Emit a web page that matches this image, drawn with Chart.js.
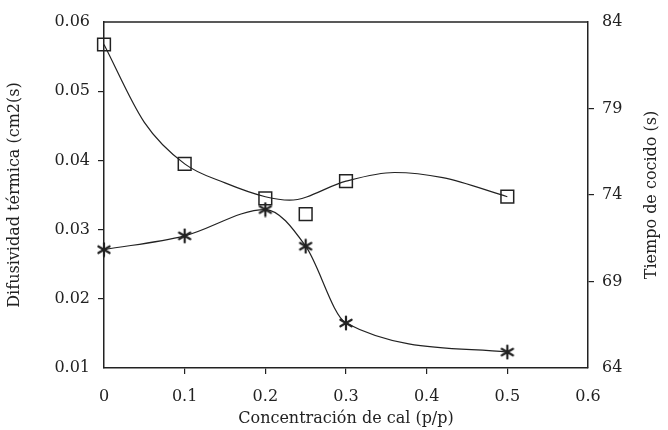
<!DOCTYPE html>
<html>
<head>
<meta charset="utf-8">
<script src="https://cdn.jsdelivr.net/npm/chart.js@4"></script>
<style>
  body { margin: 0; background: #fff; }
  #wrap { width: 668px; height: 430px; }
</style>
</head>
<body>
<div id="wrap"><canvas id="chart"></canvas></div>
<script>
// datos
const concX = [0, 0.1, 0.2, 0.25, 0.3, 0.5];
const difusividad = [0.0271, 0.0291, 0.0329, 0.0276, 0.0165, 0.0123];
const tiempo = [82.7, 75.8, 73.8, 72.9, 74.8, 73.9];
// curva ajustada de tiempo (leida de la figura, no pasa por todos los puntos)
const curvaX = [0, 0.05, 0.1, 0.15, 0.2, 0.23, 0.3, 0.36, 0.42, 0.5];
const curvaTiempo = [82.7, 78.2, 75.8, 74.7, 73.9, 73.7, 74.8, 75.3, 75.0, 73.9];

const ink = '#222';
const fontFam = '"DejaVu Serif", "Liberation Serif", serif';

// asterisco de 6 puntas
function makeStar() {
    const c = document.createElement('canvas');
    c.width = 16; c.height = 16;
    const g = c.getContext('2d');
    g.strokeStyle = ink;
    g.lineWidth = 2.2;
    g.lineCap = 'round';
    for (let i = 0; i < 3; i++) {
        const a = Math.PI / 2 + i * Math.PI / 3;
        g.beginPath();
        g.moveTo(8 + 6.5 * Math.cos(a), 8 + 6.5 * Math.sin(a));
        g.lineTo(8 - 6.5 * Math.cos(a), 8 - 6.5 * Math.sin(a));
        g.stroke();
    }
    return c;
}
const starImg = makeStar();

const toPts = (xs, ys) => xs.map((x, i) => ({ x: x, y: ys[i] }));

const tickColor = n => ctx => (ctx.index === 0 || ctx.index === n - 1) ? 'rgba(0,0,0,0)' : ink;

const framePlugin = {
    id: 'frame',
    afterDraw(chart) {
        const { ctx, chartArea: a } = chart;
        ctx.save();
        ctx.strokeStyle = ink;
        ctx.lineWidth = 1.5;
        ctx.beginPath();
        ctx.moveTo(a.left, a.top);
        ctx.lineTo(a.right, a.top);
        ctx.stroke();
        // titulo del eje derecho, leido de abajo hacia arriba
        ctx.fillStyle = ink;
        ctx.font = '16px ' + fontFam;
        ctx.textAlign = 'center';
        ctx.textBaseline = 'middle';
        ctx.translate(652, (a.top + a.bottom) / 2);
        ctx.rotate(-Math.PI / 2);
        ctx.fillText('Tiempo de cocido (s)', 0, 0);
        ctx.restore();
    }
};

new Chart(document.getElementById('chart'), {
    type: 'scatter',
    data: {
        datasets: [
            {
                data: toPts(concX, difusividad),
                yAxisID: 'y',
                showLine: true,
                clip: false,
                cubicInterpolationMode: 'monotone',
                borderColor: ink,
                borderWidth: 1.2,
                pointStyle: starImg,
                pointRadius: 7
            },
            {
                data: toPts(concX, tiempo),
                yAxisID: 'y1',
                showLine: false,
                clip: false,
                pointStyle: 'rect',
                pointRadius: 9,
                backgroundColor: 'rgba(0,0,0,0)',
                borderColor: ink,
                borderWidth: 1.5
            },
            {
                data: toPts(curvaX, curvaTiempo),
                yAxisID: 'y1',
                showLine: true,
                clip: false,
                cubicInterpolationMode: 'monotone',
                borderColor: ink,
                borderWidth: 1.2,
                pointRadius: 0
            }
        ]
    },
    options: {
        responsive: true,
        maintainAspectRatio: false,
        animation: false,
        layout: { padding: { top: 22, left: 0, right: 0, bottom: 0 } },
        plugins: { legend: { display: false }, tooltip: { enabled: false } },
        scales: {
            x: {
                type: 'linear',
                min: 0, max: 0.6,
                afterFit: s => { s.height = 62; },
                border: { color: ink, width: 1.5 },
                grid: { drawOnChartArea: false, tickLength: 6, color: tickColor(7), lineWidth: 1.2 },
                ticks: {
                    stepSize: 0.1, padding: 13, color: ink,
                    font: { family: fontFam, size: 16 },
                    callback: v => v === 0 ? '0' : v.toFixed(1)
                },
                title: {
                    display: true, text: 'Concentración de cal (p/p)', color: ink,
                    font: { family: fontFam, size: 16 }, padding: { top: 0, bottom: 2 }
                }
            },
            y: {
                position: 'left',
                min: 0.01, max: 0.06,
                afterFit: s => { s.width = 104; },
                border: { color: ink, width: 1.5 },
                grid: { drawOnChartArea: false, tickLength: 6, color: tickColor(6), lineWidth: 1.2 },
                ticks: {
                    stepSize: 0.01, padding: 8, color: ink,
                    font: { family: fontFam, size: 16 },
                    callback: v => v.toFixed(2)
                },
                title: {
                    display: true, text: 'Difusividad térmica (cm2(s)', color: ink,
                    font: { family: fontFam, size: 16 }, padding: { top: 5, bottom: 0 }
                }
            },
            y1: {
                position: 'right',
                min: 64, max: 84,
                afterFit: s => { s.width = 80; },
                border: { color: ink, width: 1.5 },
                grid: { drawOnChartArea: false, tickLength: 6, color: tickColor(5), lineWidth: 1.2 },
                ticks: {
                    stepSize: 5, padding: 8, color: ink,
                    font: { family: fontFam, size: 16 }
                }
            }
        }
    },
    plugins: [framePlugin]
});
</script>
</body>
</html>
